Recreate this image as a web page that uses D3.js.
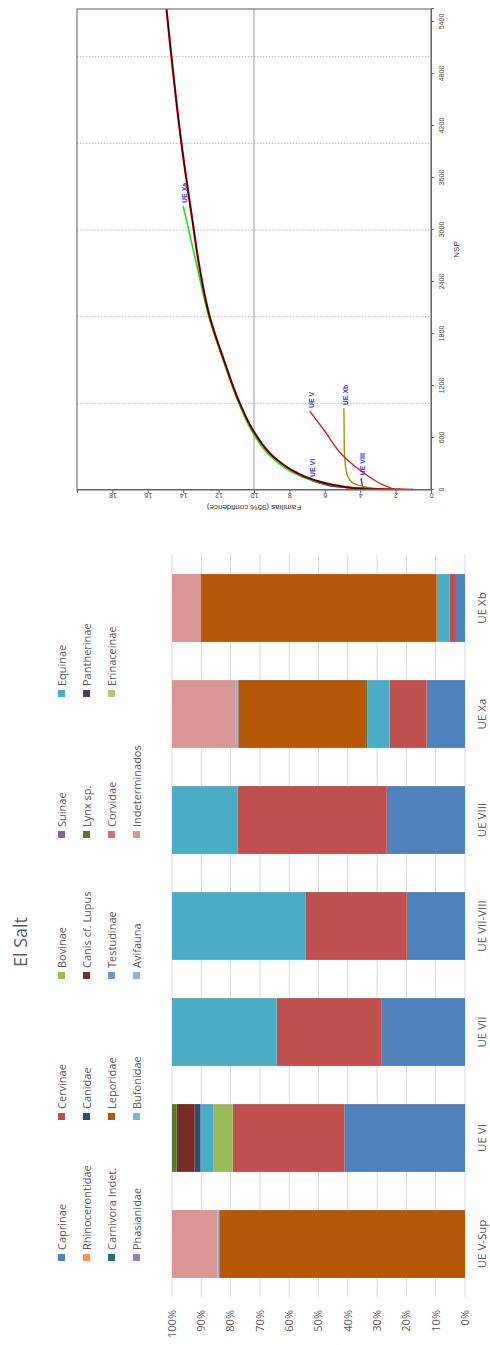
<!DOCTYPE html>
<html lang="es">
<head>
<meta charset="UTF-8">
<title>El Salt</title>
<script src="https://d3js.org/d3.v7.min.js"></script>
<style>
  body { margin: 0; background: #fff; }
  svg { display: block; }
  .bar-text { font-family: "Open Sans", sans-serif; fill: #595959; }
  .r-text { font-family: "Liberation Sans", Arial, sans-serif; fill: #333; }
</style>
</head>
<body>
<svg width="490" height="1345"></svg>
<script>
// --- stacked bar data (percent of NSP per level) ---
const categories = ["UE V-Sup", "UE VI", "UE VII", "UE VII-VIII", "UE VIII", "UE Xa", "UE Xb"];
const taxa = ["Caprinae", "Cervinae", "Bovinae", "Suinae", "Equinae",
  "Rhinocerontidae", "Canidae", "Canis cf. Lupus", "Lynx sp.", "Pantherinae",
  "Carnivora Indet.", "Leporidae", "Testudinae", "Corvidae", "Erinaceinae",
  "Phasianidae", "Bufonidae", "Avifauna", "Indeterminados"];
const taxaColors = ["#4F81BD", "#C0504D", "#9BBB59", "#8064A2", "#4BACC6",
  "#F79646", "#2C4D75", "#772C2A", "#5F7530", "#4D3B62",
  "#276A7C", "#B65708", "#729ACA", "#CD7371", "#AFC97A",
  "#9983B5", "#6FBDD1", "#95B3D7", "#D99694"];
// one row per category, columns in taxa order
const pct = [
  [0, 0, 0, 0, 0, 0, 0, 0, 0, 0, 0, 83.9, 0, 0, 0, 0, 0, 0.6, 15.5],
  [41.2, 38.1, 6.5, 0, 4.5, 0, 2.0, 6.1, 1.6, 0, 0, 0, 0, 0, 0, 0, 0, 0, 0],
  [28.4, 35.9, 0, 0, 35.7, 0, 0, 0, 0, 0, 0, 0, 0, 0, 0, 0, 0, 0, 0],
  [19.9, 34.4, 0, 0, 45.7, 0, 0, 0, 0, 0, 0, 0, 0, 0, 0, 0, 0, 0, 0],
  [26.7, 51.0, 0, 0, 22.3, 0, 0, 0, 0, 0, 0, 0, 0, 0, 0, 0, 0, 0, 0],
  [13.1, 12.5, 0.3, 0, 7.4, 0, 0, 0, 0.8, 0, 0, 43.3, 0, 0, 0, 0, 0, 0.8, 21.8],
  [3.1, 2.2, 0, 0, 4.4, 0, 0, 0, 0, 0, 0, 80.4, 0, 0, 0, 0, 0, 0, 9.9]
];
const pctTicks = [0, 0.1, 0.2, 0.3, 0.4, 0.5, 0.6, 0.7, 0.8, 0.9, 1];

// --- rarefaction curves [NSP, familias] ---
const totalCurve = [[1, 1], [15, 3.9], [54, 5.4], [115, 6.6], [211, 7.7], [384, 8.9], [654, 9.95],
  [1000, 10.8], [1500, 11.7], [1961, 12.45], [2654, 13.15], [3000, 13.4], [4000, 14.1], [5560, 14.95]];
const ueXa = [[1, 1], [15, 4.0], [54, 5.6], [115, 6.8], [211, 7.9], [384, 9.05], [654, 10.05],
  [1000, 10.85], [1500, 11.75], [1961, 12.5], [2654, 13.3], [3277, 14.0]];
const ueV = [[0, 2.0], [58, 2.7], [196, 3.8], [381, 4.9], [692, 6.05], [911, 6.85]];
const ueXb = [[1, 1], [19, 3.2], [50, 4.0], [96, 4.5], [230, 4.8], [500, 4.9], [943, 4.92]];
const ueVIII = [[1, 1], [4, 2.5], [10, 3.5], [30, 3.85], [135, 3.95]];
const ueVI = [[1, 1], [8, 2.5], [20, 4.0], [38, 5.3], [69, 6.1], [115, 6.8]];
const nspTicks = [0, 600, 1200, 1800, 2400, 3000, 3600, 4200, 4800, 5400];
const famTicks = [0, 2, 4, 6, 8, 10, 12, 14, 16, 18];
const nspGrid = [1000, 2000, 3000, 4000, 5000];

const svg = d3.select("svg");
// the whole page is laid out landscape (1345 x 490) and turned a quarter left
const page = svg.append("g").attr("transform", "translate(0,1345) rotate(-90)");

// ================= stacked bars =================
const x = d3.scaleBand().domain(categories).range([48, 790]).paddingInner(0.36).paddingOuter(0.18);
const y = d3.scaleLinear().domain([0, 1]).range([465, 172]);

const bars = page.append("g");

bars.selectAll("line.grid")
  .data(pctTicks)
  .join("line")
  .attr("x1", 48).attr("x2", 790)
  .attr("y1", d => y(d)).attr("y2", d => y(d))
  .attr("stroke", "#d9d9d9").attr("stroke-width", 1);

bars.selectAll("text.tick")
  .data(pctTicks)
  .join("text")
  .attr("class", "bar-text")
  .attr("x", 35).attr("y", d => y(d))
  .attr("dy", "0.35em")
  .attr("text-anchor", "end")
  .attr("font-size", 11)
  .text(d3.format(".0%"));

const rows = categories.map((c, i) => {
  const o = { cat: c };
  taxa.forEach((t, j) => o[t] = pct[i][j]);
  return o;
});
const series = d3.stack().keys(taxa).offset(d3.stackOffsetExpand)(rows);

bars.selectAll("g.series")
  .data(series)
  .join("g")
  .attr("fill", (d, i) => taxaColors[i])
  .selectAll("rect")
  .data(d => d)
  .join("rect")
  .attr("x", d => x(d.data.cat))
  .attr("width", x.bandwidth())
  .attr("y", d => y(d[1]))
  .attr("height", d => Math.max(0, y(d[0]) - y(d[1])));

bars.selectAll("text.cat")
  .data(categories)
  .join("text")
  .attr("class", "bar-text")
  .attr("x", d => x(d) + x.bandwidth() / 2)
  .attr("y", 485.5)
  .attr("text-anchor", "middle")
  .attr("font-size", 11.5)
  .text(d => d);

bars.append("text")
  .attr("class", "bar-text")
  .attr("x", 403).attr("y", 27)
  .attr("text-anchor", "middle")
  .attr("font-size", 18)
  .text("El Salt");

const legend = bars.selectAll("g.leg")
  .data(taxa)
  .join("g")
  .attr("transform", (d, i) => `translate(${84 + (i % 5) * 141},${62 + Math.floor(i / 5) * 25})`);
legend.append("rect")
  .attr("x", 0).attr("y", -4).attr("width", 7).attr("height", 7)
  .attr("fill", (d, i) => taxaColors[i]);
legend.append("text")
  .attr("class", "bar-text")
  .attr("x", 11).attr("y", 0)
  .attr("dy", "0.35em")
  .attr("font-size", 11)
  .text(d => d);

// ================= rarefaction plot =================
const rx = d3.scaleLinear().domain([0, 5550]).range([855, 1336]);
const ry = d3.scaleLinear().domain([0, 20]).range([431, 77]);

const rare = page.append("g");
rare.append("clipPath").attr("id", "plotclip")
  .append("rect").attr("x", 855).attr("y", 77).attr("width", 481).attr("height", 354);

rare.selectAll("line.vgrid")
  .data(nspGrid)
  .join("line")
  .attr("x1", d => rx(d)).attr("x2", d => rx(d))
  .attr("y1", 77).attr("y2", 431)
  .attr("stroke", "#bbb").attr("stroke-dasharray", "1.5,1.5");

rare.append("line")
  .attr("x1", 855).attr("x2", 1336)
  .attr("y1", ry(10)).attr("y2", ry(10))
  .attr("stroke", "#999");

const line = d3.line().x(d => rx(d[0])).y(d => ry(d[1])).curve(d3.curveMonotoneX);
const curves = [
  { name: "UE VI", data: ueVI, color: "#2233cc", w: 1.4 },
  { name: "UE VIII", data: ueVIII, color: "#9900aa", w: 1.4 },
  { name: "UE Xb", data: ueXb, color: "#999900", w: 1.4 },
  { name: "UE V", data: ueV, color: "#cc2233", w: 1.4 },
  { name: "UE Xa", data: ueXa, color: "#22dd22", w: 1.6 }
];
const plot = rare.append("g").attr("clip-path", "url(#plotclip)");
plot.selectAll("path.c")
  .data(curves)
  .join("path")
  .attr("d", d => line(d.data))
  .attr("fill", "none")
  .attr("stroke", d => d.color)
  .attr("stroke-width", d => d.w);
plot.append("path").attr("d", line(totalCurve))
  .attr("fill", "none").attr("stroke", "#cc0000").attr("stroke-width", 2.2);
plot.append("path").attr("d", line(totalCurve))
  .attr("fill", "none").attr("stroke", "#111").attr("stroke-width", 1.1);

rare.selectAll("text.lab")
  .data(curves)
  .join("text")
  .attr("class", "r-text")
  .attr("x", d => rx(d.data[d.data.length - 1][0]) + 3)
  .attr("y", d => ry(d.data[d.data.length - 1][1]) + 4)
  .attr("font-size", 7)
  .attr("font-weight", "bold")
  .style("fill", "#3a3ac0")
  .text(d => d.name);

rare.append("rect")
  .attr("x", 855).attr("y", 77).attr("width", 481).attr("height", 354)
  .attr("fill", "none").attr("stroke", "#777").attr("stroke-width", 1.2);

const xAxis = rare.append("g").attr("transform", "translate(0,431)")
  .call(d3.axisBottom(rx).tickValues(nspTicks).tickSize(3).tickPadding(5).tickFormat(d3.format("d")));
const yAxis = rare.append("g").attr("transform", "translate(855,0)")
  .call(d3.axisLeft(ry).tickValues(famTicks).tickSize(3).tickFormat(d3.format("d")));
[xAxis, yAxis].forEach(a => {
  a.select(".domain").attr("stroke", "#666");
  a.selectAll(".tick line").attr("stroke", "#666");
  a.selectAll("text").attr("font-size", 7).attr("font-family", "Liberation Sans, Arial, sans-serif").attr("fill", "#444");
});
yAxis.selectAll("text")
  .attr("x", 0).attr("dy", null)
  .attr("text-anchor", "middle")
  .attr("transform", "translate(-3,0) rotate(-90)");

rare.append("text")
  .attr("class", "r-text")
  .attr("x", rx(2775)).attr("y", 459)
  .attr("text-anchor", "middle")
  .attr("font-size", 8)
  .text("NSP");

rare.append("text")
  .attr("class", "r-text")
  .attr("transform", `translate(840,${ry(10)}) rotate(-90)`)
  .attr("text-anchor", "middle")
  .attr("font-size", 8)
  .text("Familias (95% confidence)");
</script>
</body>
</html>
